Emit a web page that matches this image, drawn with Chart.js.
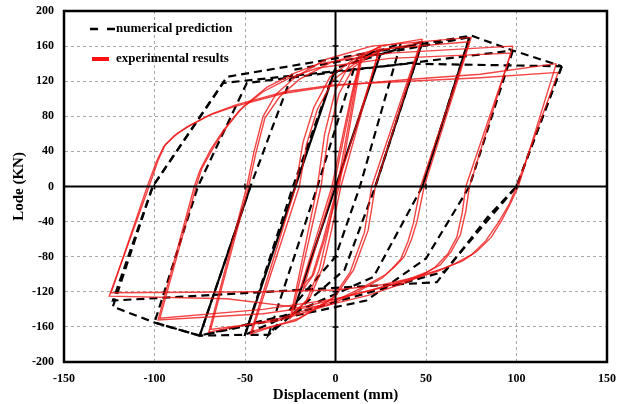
<!DOCTYPE html>
<html>
<head>
<meta charset="utf-8">
<script src="https://cdn.jsdelivr.net/npm/chart.js@4.4.0/dist/chart.umd.min.js"></script>
<style>
  html, body { margin: 0; padding: 0; background: #fff; }
  #wrap { width: 625px; height: 404px; }
</style>
</head>
<body>
<div id="wrap"><canvas id="myChart" width="625" height="404"></canvas></div>
<script>
// axis ticks
const xTicks = [-150, -100, -50, 0, 50, 100, 150];
const yTicks = [-200, -160, -120, -80, -40, 0, 40, 80, 120, 160, 200];

// experimental results (red), two cycles per amplitude
const exp125aX = [122, 101, 97, 92, 86, 78, 70, 60, 45, 26, 0, -40, -124, -104, -99, -95, -89, -82, -70, -56, -29, 0, 40, 80, 122];
const exp125aY = [140, 0, -18, -38, -58, -74, -85, -93, -103, -112, -118, -120, -121, 0, 28, 45, 58, 68, 81, 91, 106, 115, 122, 128, 140];
const exp125bX = [123, 100, 96, 90, 83, 75, 66, 57, 42, 24, -1, -20, -60, -125, -103, -98, -94, -87, -80, -68, -55, -28, 0, 40, 80, 123];
const exp125bY = [130, 0, -20, -41, -62, -78, -88, -96, -106, -116, -129, -138, -128, -125, 0, 30, 48, 61, 70, 83, 93, 108, 116, 120, 124, 130];
const exp100aX = [98, 74, 72, 69, 64, 58, 50, 40, 20, 0, -40, -97, -77, -74, -67, -60, -51, -38, -23, -9, 30, 98];
const exp100aY = [160, 0, -28, -55, -74, -89, -98, -106, -118, -128, -140, -150, 0, 20, 46, 68, 91, 113, 129, 140, 152, 160];
const exp100bX = [97, 72, 70, 67, 62, 55, 47, 38, 18, -2, -40, -98, -78, -75, -69, -62, -53, -40, -25, -10, 30, 97];
const exp100bY = [152, 0, -30, -58, -77, -92, -102, -110, -124, -134, -145, -152, 0, 18, 42, 64, 87, 108, 124, 135, 146, 152];
const exp75aX = [75, 49, 47, 45, 42, 38, 33, 28, 15, 0, -30, -70, -49, -47, -45, -40, -33, -22, -5, 20, 75];
const exp75aY = [170, 0, -20, -40, -60, -80, -91, -100, -115, -130, -150, -166, 0, 20, 40, 80, 105, 125, 145, 160, 170];
const exp75bX = [74, 47, 45, 43, 40, 36, 31, 26, 13, -2, -32, -69, -48, -46, -44, -39, -31, -20, -3, 22, 74];
const exp75bY = [165, 0, -21, -42, -63, -83, -94, -104, -119, -134, -153, -163, 0, 19, 38, 78, 102, 122, 141, 156, 165];
const exp50aX = [48, 22, 18, 10, 0, -20, -47, -22, -18, -12, -3, 10, 25, 48];
const exp50aY = [168, 0, -50, -95, -125, -150, -168, 0, 50, 90, 125, 145, 160, 168];
const exp50bX = [47, 20, 16, 8, -2, -22, -46, -20, -16, -10, -1, 12, 27, 47];
const exp50bY = [164, 0, -52, -98, -128, -153, -165, 0, 48, 88, 122, 142, 156, 164];
const exp25aX = [25, 1, -4, -9, -16, -25, -10, -6, 0, 8, 25];
const exp25aY = [160, 0, -50, -95, -130, -150, 0, 60, 110, 140, 160];
const exp25bX = [24, 3, -2, -7, -14, -24, -8, -4, 2, 10, 24];
const exp25bY = [156, 0, -48, -92, -126, -146, 0, 58, 106, 136, 156];
const exp12aX = [15, 2, -6, -12, -18, -1, 5, 10, 15];
const exp12aY = [152, 0, -60, -100, -118, 0, 60, 110, 152];
const exp12bX = [14, 1, -7, -13, -19, -2, 4, 9, 14];
const exp12bY = [148, 0, -62, -102, -114, 0, 58, 106, 148];

// numerical prediction (black dashed)
const num125aX = [125, 100, 60, -20, -75, -100, -123, -101, -60, 75, 98, 125];
const num125aY = [137, 0, -97, -143, -170, -155, -137, 0, 125, 172, 155, 137];
const num125bX = [125, 100, 84, 56, -123, -101, -62, 40, 125];
const num125bY = [137, 0, -35, -109, -130, 0, 118, 140, 137];
const num100X = [98, 74, 50, 17, -75, -100, -76, -49, 98];
const num100Y = [155, 0, -82, -130, -170, -155, 0, 118, 155];
const num75X = [74, 48, 21, -50, -75, -47, -23, 74];
const num75Y = [170, 0, -103, -169, -170, 0, 133, 170];
const num50X = [48, 22, 5, -37, -50, -23.5, 0, 48];
const num50Y = [165, 0, -95, -169, -169, 0, 135, 165];
const num37X = [36, 13.5, 0, -37, -10, 12, 36];
const num37Y = [163, 0, -80, -169, 0, 146, 163];

// repeated numerical branches (look solid)
const solidAX = [-75, -47];
const solidAY = [-170, 0];
const solidBX = [-50, 0];
const solidBY = [-169, 135];
const solidCX = [-23, 25];
const solidCY = [-141, 152];
const solidDX = [22, 48];
const solidDY = [0, 165];
const solidEX = [48, 74];
const solidEY = [0, 170];

function pts(xs, ys) {
  return xs.map((x, i) => ({ x: x, y: ys[i] }));
}

const expLoops = [
  [exp125aX, exp125aY], [exp125bX, exp125bY],
  [exp100aX, exp100aY], [exp100bX, exp100bY],
  [exp75aX, exp75aY], [exp75bX, exp75bY],
  [exp50aX, exp50aY], [exp50bX, exp50bY],
  [exp25aX, exp25aY], [exp25bX, exp25bY],
  [exp12aX, exp12aY], [exp12bX, exp12bY],
];
const numLoops = [
  [num125aX, num125aY], [num125bX, num125bY], [num100X, num100Y],
  [num75X, num75Y], [num50X, num50Y], [num37X, num37Y],
];
const solidLines = [
  [solidAX, solidAY], [solidBX, solidBY], [solidCX, solidCY],
  [solidDX, solidDY], [solidEX, solidEY],
];

const datasets = [];
expLoops.forEach(l => datasets.push({
  data: pts(l[0], l[1]),
  borderColor: 'rgba(240,20,20,0.8)',
  borderWidth: 1.4,
}));
solidLines.forEach(l => datasets.push({
  data: pts(l[0], l[1]),
  borderColor: '#000',
  borderWidth: 2.2,
}));
numLoops.forEach(l => datasets.push({
  data: pts(l[0], l[1]),
  borderColor: '#000',
  borderWidth: 2.2,
  borderDash: [8, 5],
}));

const serif = 'Liberation Serif';

// zero axes, frame and the legend inside the plot
const decorations = {
  id: 'decorations',
  afterDatasetsDraw(chart) {
    const { ctx, chartArea: a, scales: { x, y } } = chart;
    const x0 = x.getPixelForValue(0);
    const y0 = y.getPixelForValue(0);
    ctx.save();
    ctx.strokeStyle = '#000';
    ctx.lineWidth = 2;
    ctx.beginPath();
    ctx.moveTo(a.left, y0); ctx.lineTo(a.right, y0);
    ctx.moveTo(x0, a.top); ctx.lineTo(x0, a.bottom);
    ctx.stroke();
    ctx.lineWidth = 1.5;
    ctx.beginPath();
    yTicks.forEach(v => {
      const p = y.getPixelForValue(v);
      ctx.moveTo(x0 - 3, p); ctx.lineTo(x0 + 3, p);
    });
    xTicks.forEach(v => {
      const p = x.getPixelForValue(v);
      ctx.moveTo(p, y0 - 3); ctx.lineTo(p, y0 + 3);
    });
    ctx.stroke();
    ctx.lineWidth = 2.5;
    ctx.strokeRect(a.left, a.top, a.right - a.left, a.bottom - a.top);

    // legend
    ctx.font = 'bold 13px ' + serif;
    ctx.textBaseline = 'middle';
    ctx.fillStyle = '#000';
    ctx.lineWidth = 2.5;
    ctx.setLineDash([8, 9]);
    ctx.beginPath();
    ctx.moveTo(a.left + 26, a.top + 18); ctx.lineTo(a.left + 51, a.top + 18);
    ctx.stroke();
    ctx.setLineDash([]);
    ctx.fillText('numerical prediction', a.left + 52, a.top + 18);
    ctx.strokeStyle = '#ff1010';
    ctx.lineWidth = 4;
    ctx.beginPath();
    ctx.moveTo(a.left + 28, a.top + 48); ctx.lineTo(a.left + 45, a.top + 48);
    ctx.stroke();
    ctx.fillText('experimental results', a.left + 52, a.top + 48);
    ctx.restore();
  },
};

const chart = new Chart(document.getElementById('myChart').getContext('2d'), {
  type: 'scatter',
  data: { datasets: datasets },
  options: {
    responsive: false,
    animation: false,
    showLine: true,
    elements: { point: { radius: 0 }, line: { tension: 0, fill: false } },
    layout: { padding: { top: 11, right: 18, left: 0, bottom: 0 } },
    plugins: { legend: { display: false }, tooltip: { enabled: false } },
    scales: {
      x: {
        min: -150,
        max: 150,
        afterBuildTicks: s => { s.ticks = xTicks.map(v => ({ value: v })); },
        afterFit: s => { s.height = 42; s.paddingLeft = 0; s.paddingRight = 0; },
        grid: { color: '#a8a8a8', lineWidth: 1, drawTicks: false },
        border: { display: true, color: '#000', width: 2, dash: [3, 3] },
        ticks: { color: '#000', padding: 10, font: { family: serif, size: 12, weight: 'bold' } },
        title: {
          display: true,
          text: 'Displacement (mm)',
          color: '#000',
          padding: { top: 1, bottom: 0 },
          font: { family: serif, size: 15, weight: 'bold' },
        },
      },
      y: {
        min: -200,
        max: 200,
        afterBuildTicks: s => { s.ticks = yTicks.map(v => ({ value: v })); },
        afterFit: s => { s.width = 64; s.paddingTop = 0; s.paddingBottom = 0; },
        grid: { color: '#a8a8a8', lineWidth: 1, drawTicks: false },
        border: { display: true, color: '#000', width: 2, dash: [3, 3] },
        ticks: { color: '#000', padding: 10, font: { family: serif, size: 12, weight: 'bold' } },
        title: {
          display: true,
          text: 'Lode (KN)',
          color: '#000',
          padding: { top: 10, bottom: 0 },
          font: { family: serif, size: 15, weight: 'bold' },
        },
      },
    },
  },
  plugins: [decorations],
});
</script>
</body>
</html>
